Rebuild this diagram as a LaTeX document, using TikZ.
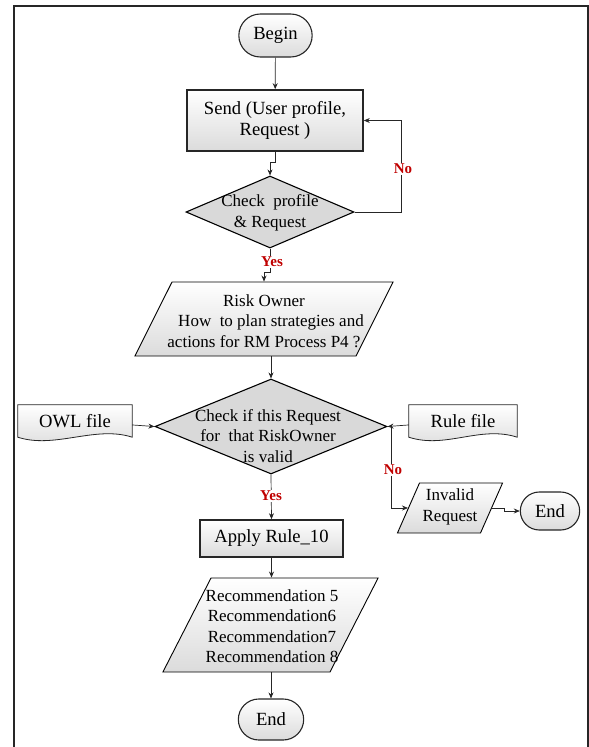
\documentclass[tikz,border=0pt]{standalone}
\usepackage{fontspec}
\setmainfont{Liberation Serif}
\usepackage{tikz}
\usetikzlibrary{arrows.meta, shapes.geometric, shapes.misc, backgrounds}

\definecolor{answerred}{HTML}{C00000}
\definecolor{linegray}{HTML}{262626}
\definecolor{decgray}{HTML}{D9D9D9}

\begin{document}
\begin{tikzpicture}[x=1pt, y=-1pt,
    font=\fontsize{17}{20.5}\selectfont,
    bigfont/.style={font=\fontsize{18.6}{21.5}\selectfont},
    shaded/.style={top color=white, bottom color=black!14},
    terminal/.style={rounded rectangle, draw=linegray, line width=1.1pt, shaded, bigfont},
    process/.style={rectangle, draw=linegray, line width=1.6pt, shaded, align=center, bigfont},
    decision/.style={diamond, draw=black, line width=1.1pt, fill=decgray, inner sep=0pt},
    inout/.style={trapezium, draw=black, line width=0.9pt, shaded},
    boxtext/.style={align=center, inner sep=0pt},
    docfile/.style={rectangle, inner sep=0pt, bigfont},
    answer/.style={font=\fontsize{15}{15}\selectfont\bfseries, text=answerred,
      fill=white, inner sep=1pt},
    flow/.style={draw=linegray, line width=0.7pt, -{Stealth[length=6pt, width=5pt]}}
  ]

  \useasboundingbox (0,0) rectangle (589,747);
  \draw[line width=2pt, linegray] (13.5,747) -- (13.5,5.5) -- (587.5,5.5) -- (587.5,747);

  % main column
  \node[terminal, minimum width=80pt, minimum height=43pt] (begin) at (275.5,35.5) {Begin};
  \node[process, minimum width=176pt, minimum height=61pt] (send) at (275,120.5)
    {Send (User profile,\\Request )};
  \node[decision, minimum width=168pt, minimum height=72pt] (chk1) at (270,212) {};
  \node[boxtext] (chk1txt) at (270,213) {Check\ \ profile\\\& Request};
  \node[inout, trapezium left angle=63.4, trapezium right angle=116.6,
    inner xsep=92pt, inner ysep=37pt] (risk) at (264,319) {};
  \node[boxtext] (risktxt) at (264,321)
    {Risk Owner\\\hspace*{14pt}How\ \ to plan strategies and\\actions for RM Process P4 ?};
  \node[decision, minimum width=232pt, minimum height=95pt] (chk2) at (271,426.5) {};
  \node[boxtext] (chk2txt) at (268,436) {Check if this Request\\for\ \ that RiskOwner\\is valid};
  \node[process, minimum width=143pt, minimum height=37pt] (apply) at (271.5,538.5) {Apply Rule\_10};
  \node[inout, trapezium left angle=62.9, trapezium right angle=117.1,
    inner xsep=59.5pt, inner ysep=47pt] (rec) at (270.5,625) {};
  \node[boxtext] (rectxt) at (272,626)
    {Recommendation 5\\Recommendation6\\Recommendation7\\Recommendation 8};
  \node[terminal, minimum width=72pt, minimum height=41pt] (stop) at (271,719.5) {End};

  % side branch
  \node[docfile, minimum width=114pt, minimum height=32pt] (owl) at (75,421) {OWL file};
  \node[docfile, minimum width=108pt, minimum height=32pt] (rule) at (463,421) {Rule file};
  \node[inout, trapezium left angle=66.2, trapezium right angle=113.8,
    inner xsep=30.5pt, inner ysep=25pt] (invalid) at (450,508) {};
  \node[boxtext] (invalidtxt) at (450,507) {Invalid\\Request};
  \node[terminal, minimum width=66pt, minimum height=38pt] (stop2) at (550,511) {End};

  \begin{scope}[on background layer]
    \foreach \doc in {owl, rule}
      \draw[shaded, draw=linegray, line width=0.8pt] (\doc.north west) -- (\doc.north east)
        -- (\doc.south east) .. controls +(-37,-12) and +(37,12) .. (\doc.south west) -- cycle;
  \end{scope}

  % connectors
  \draw[flow] (begin) -- (send);
  \draw[flow] (send.south) -- ++(0,11) -| (chk1.north);
  \draw[flow] (chk1.east) -- ++(47,0) |- (send.east);
  \draw[flow] (chk1.south) -- ++(0,24) -| (risk.center |- risk.north);
  \draw[flow] (chk2.north |- risk.south) -- (chk2.north);
  \draw[flow] (owl) -- (chk2.west);
  \draw[flow] (rule) -- (chk2.east);
  \draw[flow] (chk2.east) -- ++(4,0) |- (invalid);
  \draw[flow] (invalid.east) -- ++(12,0) |- (stop2);
  \draw[flow] (chk2.south) -- (apply.north);
  \draw[flow] (apply.south) -- (apply.south |- rec.north);
  \draw[flow] (rec.south -| stop.north) -- (stop.north);

  \node[answer] (no1) at (403,169) {No};
  \node[answer] (yes1) at (272,262) {Yes};
  \node[answer] (no2) at (393,470) {No};
  \node[answer] (yes2) at (271,496) {Yes};

\end{tikzpicture}
\end{document}
